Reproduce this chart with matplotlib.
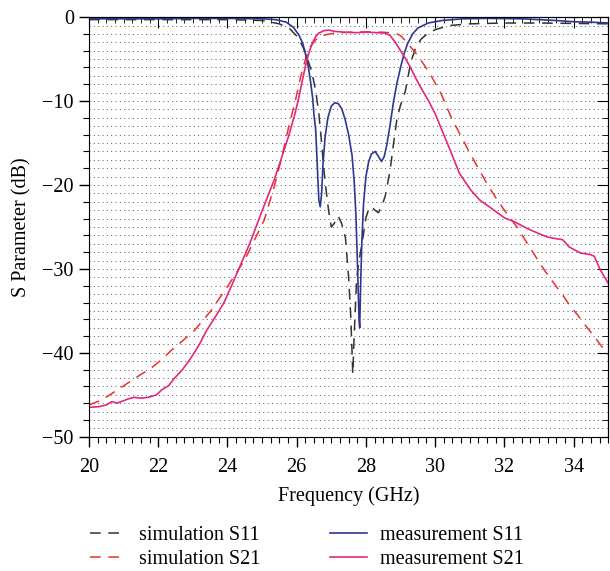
import numpy as np
import matplotlib.pyplot as plt
from matplotlib.ticker import MultipleLocator

# --- data (GHz, dB) ---
sim_s11_f = [20.0, 22.0, 24.0, 25.0, 25.5, 25.8, 26.06, 26.26, 26.44, 26.55, 26.64, 26.72,
             26.78, 26.86, 26.93, 27.0, 27.08, 27.2, 27.3, 27.41, 27.5, 27.56, 27.6, 27.62,
             27.66, 27.73, 27.8, 27.87, 28.0, 28.08, 28.16, 28.26, 28.36, 28.46, 28.56, 28.7,
             28.8, 28.9, 29.0, 29.14, 29.3, 29.45, 29.6, 29.8, 30.0, 30.4, 31.0, 32.0, 33.0,
             34.0, 35.0]
sim_s11_db = [-0.3, -0.3, -0.3, -0.4, -0.8, -1.4, -2.5, -4.3, -6.6, -8.8, -11.5, -15.0,
              -18.0, -21.0, -23.3, -25.0, -24.6, -23.7, -24.6, -26.3, -31.0, -35.5, -40.0, -42.5,
              -38.0, -31.3, -29.0, -27.4, -23.9, -22.9, -22.6, -23.0, -23.3, -22.5, -21.3, -18.2,
              -15.0, -12.0, -10.5, -8.8, -5.3, -3.5, -2.6, -1.9, -1.5, -1.0, -0.8, -0.7, -0.7,
              -0.75, -0.8]

sim_s21_f = [20.0, 20.37, 20.75, 21.12, 21.45, 21.8, 22.1, 22.4, 22.75, 23.05, 23.5, 24.0,
             24.5, 25.06, 25.35, 25.55, 25.78, 25.98, 26.12, 26.26, 26.4, 26.55, 26.7, 26.84,
             27.1, 27.5, 28.0, 28.5, 28.85, 29.0, 29.14, 29.3, 29.5, 29.7, 29.9, 30.17, 30.46,
             30.75, 31.03, 31.3, 31.52, 31.75, 32.0, 32.38, 32.7, 32.96, 33.2, 33.45, 33.7,
             33.9, 34.1, 34.3, 34.55, 34.77, 35.0]
sim_s21_db = [-46.2, -45.6, -44.6, -43.6, -42.7, -41.8, -40.8, -39.6, -38.4, -37.3, -35.1, -32.1,
              -28.9, -24.2, -20.2, -17.0, -12.9, -9.6, -7.0, -4.9, -3.5, -2.7, -2.3, -2.1,
              -1.9, -1.8, -1.75, -1.8, -1.9, -2.2, -2.8, -3.6, -4.6, -5.8, -7.1, -9.1, -11.9,
              -14.2, -16.4, -18.4, -20.0, -21.5, -23.0, -25.1, -27.2, -28.9, -30.4, -31.8, -33.2,
              -34.4, -35.4, -36.5, -37.8, -39.0, -40.2]

meas_s11_f = [20.0, 21.0, 22.0, 23.0, 24.0, 25.0, 25.4, 25.7, 25.9, 26.06, 26.18, 26.26, 26.34,
              26.4, 26.46, 26.5, 26.55, 26.6, 26.64, 26.68, 26.72, 26.76, 26.82, 26.9, 27.0,
              27.1, 27.2, 27.3, 27.4, 27.5, 27.6, 27.66, 27.71, 27.76, 27.8, 27.82, 27.85,
              27.88, 27.93, 28.0, 28.08, 28.16, 28.27, 28.36, 28.45, 28.53, 28.6, 28.7, 28.8,
              28.9, 29.0, 29.1, 29.2, 29.35, 29.5, 29.8, 30.2, 30.8, 31.5, 32.5, 33.5, 34.0,
              34.5, 35.0]
meas_s11_db = [-0.2, -0.2, -0.2, -0.15, -0.15, -0.2, -0.3, -0.6, -1.2, -2.1, -3.2, -4.5, -6.0,
               -7.7, -9.6, -11.7, -13.5, -18.2, -21.8, -22.6, -21.0, -17.5, -14.3, -12.0, -10.6,
               -10.2, -10.3, -10.9, -12.2, -14.0, -16.5, -19.5, -23.5, -30.0, -36.0, -37.0, -31.5,
               -27.0, -22.3, -19.0, -17.2, -16.3, -16.0, -16.6, -17.2, -16.6, -15.3, -12.8, -10.0,
               -7.8, -6.0, -4.4, -3.2, -2.0, -1.3, -0.7, -0.4, -0.2, -0.15, -0.2, -0.4, -0.55,
               -0.6, -0.7]

meas_s21_f = [20.0, 20.3, 20.5, 20.66, 20.8, 21.0, 21.12, 21.3, 21.5, 21.7, 21.8, 21.95, 22.1,
              22.3, 22.47, 22.7, 22.96, 23.2, 23.4, 23.65, 23.9, 24.15, 24.4, 24.65, 24.86,
              25.1, 25.35, 25.56, 25.78, 25.95, 26.06, 26.16, 26.26, 26.35, 26.44, 26.55,
              26.64, 26.8, 26.93, 27.1, 27.4, 27.7, 28.07, 28.3, 28.56, 28.7, 28.85, 29.0,
              29.14, 29.3, 29.43, 29.6, 29.8, 30.0, 30.2, 30.43, 30.7, 31.03, 31.29, 31.6,
              32.0, 32.3, 32.67, 33.0, 33.25, 33.5, 33.68, 33.88, 34.2, 34.5, 34.6, 34.77, 35.0]
meas_s21_db = [-46.5, -46.4, -46.2, -45.8, -46.0, -45.7, -45.5, -45.3, -45.4, -45.3, -45.2, -45.0,
               -44.4, -43.9, -43.0, -42.0, -40.5, -38.9, -37.3, -35.7, -34.0, -31.7, -29.3, -26.9,
               -24.6, -22.0, -19.4, -16.8, -14.0, -11.5, -9.6, -7.6, -5.7, -4.3, -3.2, -2.3,
               -1.9, -1.6, -1.55, -1.7, -1.8, -1.85, -1.8, -1.85, -1.9, -2.2, -3.0, -4.0,
               -4.9, -6.1, -7.2, -8.5, -9.9, -11.5, -13.5, -15.8, -18.6, -20.6, -21.8, -22.7,
               -23.9, -24.4, -25.2, -25.8, -26.2, -26.4, -26.5, -27.4, -28.1, -28.3, -28.5,
               -30.1, -31.7]

plt.rcParams['font.family'] = 'Liberation Serif'
plt.rcParams['font.size'] = 14.5

fig = plt.figure(figsize=(6.1, 5.71), dpi=100)
ax = fig.add_axes([0.146, 0.235, 0.851, 0.735])

# dotted background lines, one per dB
for yy in np.arange(-49, 0, 1):
    ax.axhline(yy, color='#555555', lw=0.7, ls=(0, (1, 3.47)), zorder=0)

ax.plot(sim_s11_f, sim_s11_db, color='#333333', lw=1.1, ls=(0, (7, 5)), label='simulation S11')
ax.plot(sim_s21_f, sim_s21_db, color='#e8312f', lw=1.1, ls=(0, (7, 5)), label='simulation S21')
ax.plot(meas_s11_f, meas_s11_db, color='#2e3790', lw=1.2, label='measurement S11')
ax.plot(meas_s21_f, meas_s21_db, color='#e3277f', lw=1.2, label='measurement S21')

ax.set_xlim(20, 35)
ax.set_ylim(-50, 0)
ax.xaxis.set_major_locator(MultipleLocator(2))
ax.xaxis.set_minor_locator(MultipleLocator(0.25))
ax.yaxis.set_major_locator(MultipleLocator(10))
ax.yaxis.set_minor_locator(MultipleLocator(2))
ax.tick_params(which='major', direction='out', length=7, width=1, pad=8)
ax.tick_params(which='minor', direction='out', length=4, width=0.8)
ax.tick_params(axis='y', which='major', pad=4)
ax.yaxis.set_major_formatter(plt.FuncFormatter(lambda v, p: f'{v:.0f}'.replace('-', '\u2212')))

# top / right ticks point inward, no labels
top = ax.secondary_xaxis('top')
top.xaxis.set_major_locator(MultipleLocator(2))
top.xaxis.set_minor_locator(MultipleLocator(0.25))
top.tick_params(which='major', direction='in', length=8, labeltop=False)
top.tick_params(which='minor', direction='in', length=4)
right = ax.secondary_yaxis('right')
right.yaxis.set_major_locator(MultipleLocator(10))
right.yaxis.set_minor_locator(MultipleLocator(2))
right.tick_params(which='major', direction='in', length=8, labelright=False)
right.tick_params(which='minor', direction='in', length=4)

ax.set_xlabel('Frequency (GHz)', labelpad=7)
ax.set_ylabel('S Parameter (dB)', labelpad=8)

fig.legend(loc='lower left', bbox_to_anchor=(0.118, -0.029), ncol=2, frameon=False,
           handlelength=1.8, handletextpad=0.65, columnspacing=3.45, labelspacing=0.25)

fig.savefig('out.png', dpi=100)
